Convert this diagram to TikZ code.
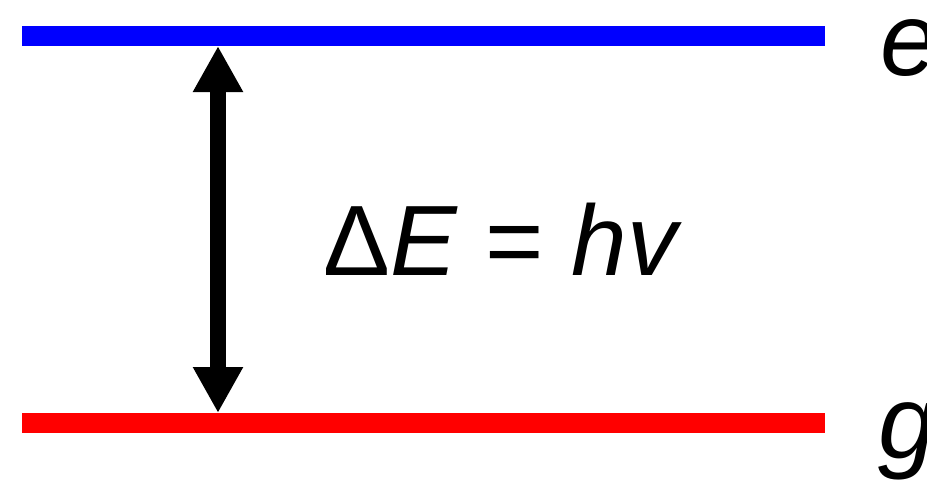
\documentclass[tikz,border=0pt]{standalone}
\usepackage{fontspec}
\setmainfont{Liberation Sans}
\usetikzlibrary{arrows.meta}

\begin{document}
\begin{tikzpicture}[x=1pt,y=-1pt,every node/.style={inner sep=0pt},
	level/.style={line width=20pt,line cap=butt},
	lbl/.style={font=\fontsize{104}{120}\selectfont\itshape,anchor=base west}]
	\useasboundingbox (0,0) rectangle (927,485);
	\coordinate (eL) at (22,36);
	\coordinate (eR) at (825,36);
	\coordinate (gL) at (22,423);
	\coordinate (gR) at (825,423);
	\draw[level, blue] (eL) -- (eR);
	\draw[level, red] (gL) -- (gR);
	\coordinate (top) at (218,46);
	\coordinate (bot) at (218,413);
	\draw[line width=16pt, {Triangle[length=46pt,width=47pt]}-{Triangle[length=46pt,width=47pt]}] (top) -- (bot);
	\node[anchor=base, font=\fontsize{100}{120}\selectfont] (dE) at (503,275) {Δ\textit{E} = \textit{hv}};
	\node[lbl] (e) at (880,75) {e};
	\node[lbl] (g) at (878,458) {g};
\end{tikzpicture}
\end{document}
